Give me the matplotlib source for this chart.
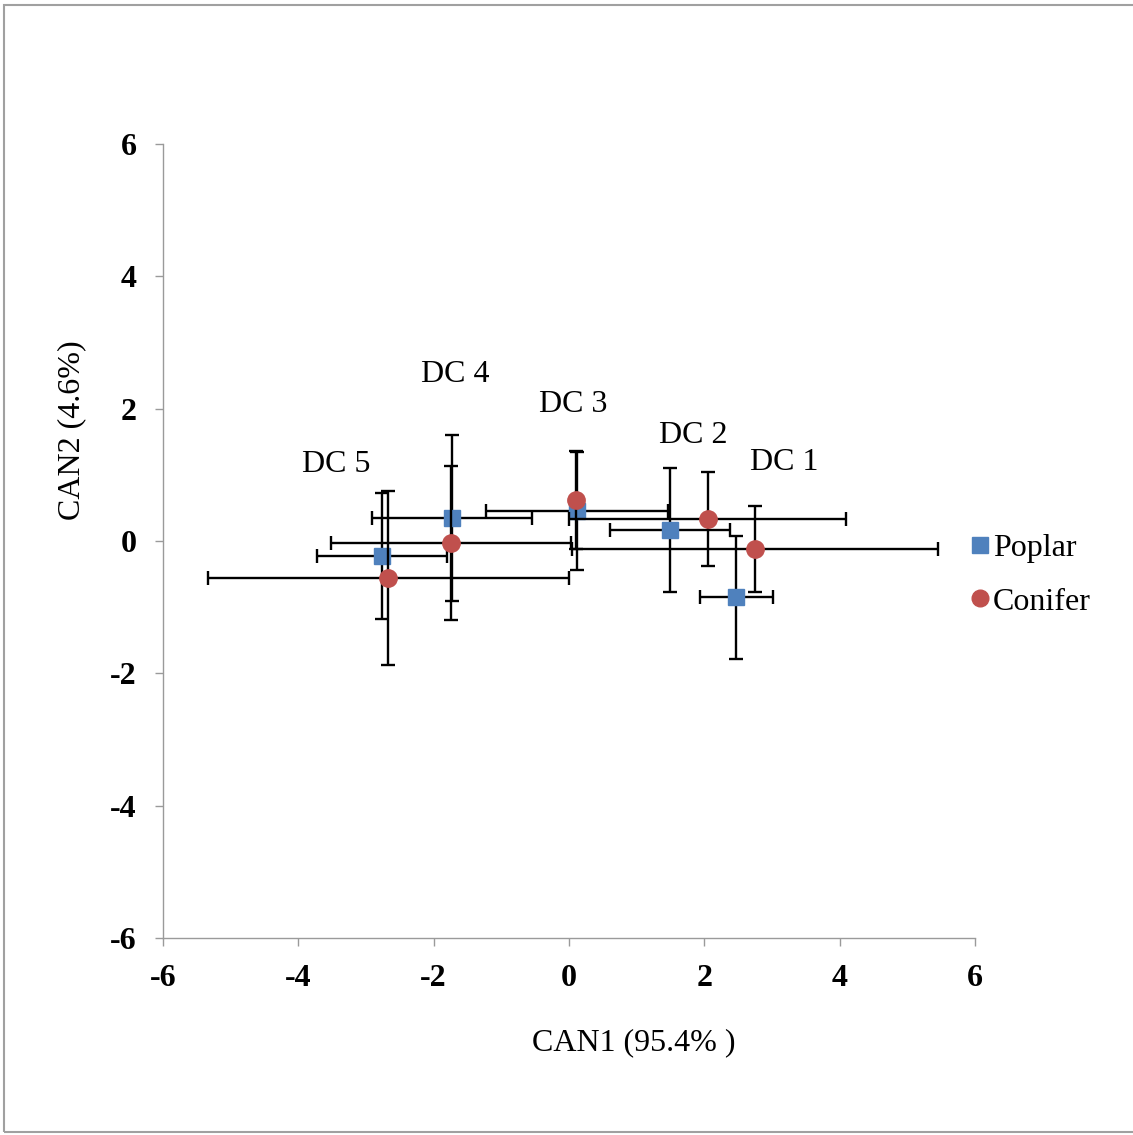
import matplotlib
matplotlib.use("Agg")
import matplotlib.pyplot as plt
from matplotlib.patches import Rectangle
from matplotlib.lines import Line2D

plt.rcParams['font.family'] = ['Liberation Serif', 'DejaVu Serif']

# Canonical means (CAN1, CAN2) with error bars for each decay class
classes = ["DC 1", "DC 2", "DC 3", "DC 4", "DC 5"]

poplar_can1 = [2.47, 1.49, 0.12, -1.73, -2.76]
poplar_can2 = [-0.85, 0.17, 0.45, 0.35, -0.23]
poplar_err1 = [0.54, 0.89, 1.34, 1.18, 0.96]
poplar_err2 = [0.93, 0.94, 0.89, 1.25, 0.95]

conifer_can1 = [2.75, 2.05, 0.10, -1.74, -2.67]
conifer_can2 = [-0.12, 0.33, 0.62, -0.03, -0.56]
conifer_err1 = [2.71, 2.05, 0.00, 1.77, 2.67]
conifer_err2 = [0.65, 0.71, 0.74, 1.17, 1.31]

# Label anchor points for each decay class
label_x = [3.18, 1.83, 0.06, -1.68, -3.44]
label_y = [1.18, 1.60, 2.07, 2.51, 1.15]

ticks = [-6, -4, -2, 0, 2, 4, 6]

FS = 23
W, H = 1133, 1135
fig = plt.figure(figsize=(W / 100, H / 100), dpi=100)
ax = fig.add_axes([163 / W, 1 - 938 / H, (975 - 163) / W, (938 - 144) / H])

blue = "#4F81BD"
red = "#C0504D"
ebkw = dict(ecolor="black", elinewidth=1.7, capsize=4.8, capthick=1.7, linestyle="none")

ax.errorbar(poplar_can1, poplar_can2, xerr=poplar_err1, yerr=poplar_err2,
            marker="s", markersize=11.5, markerfacecolor=blue, markeredgecolor=blue,
            zorder=2, **ebkw)
ax.errorbar(conifer_can1, conifer_can2, xerr=conifer_err1, yerr=conifer_err2,
            marker="o", markersize=12.5, markerfacecolor=red, markeredgecolor=red,
            zorder=3, **ebkw)

for name, lx, ly in zip(classes, label_x, label_y):
    ax.text(lx, ly, name, ha="center", va="center", fontsize=FS, color="black")

ax.set_xlim(-6, 6)
ax.set_ylim(-6, 6)
ax.set_xticks(ticks)
ax.set_yticks(ticks)
ax.set_xticklabels([str(t) for t in ticks], fontsize=FS, fontweight="bold")
ax.set_yticklabels([str(t) for t in ticks], fontsize=FS, fontweight="bold")
for s in ["top", "right"]:
    ax.spines[s].set_visible(False)
for s in ["left", "bottom"]:
    ax.spines[s].set_color("#9a9a9a")
    ax.spines[s].set_linewidth(1.0)
ax.tick_params(direction="out", length=6, width=1.0, color="#9a9a9a", pad=13)

fig.text(634 / W, 1 - 1043 / H, "CAN1 (95.4% )", ha="center", va="center", fontsize=FS)
fig.text(72 / W, 1 - 430 / H, "CAN2 (4.6%)", ha="center", va="center", fontsize=FS,
         rotation=90)

handles = [
    Line2D([], [], marker="s", linestyle="none", markersize=11,
           markerfacecolor=blue, markeredgecolor=blue),
    Line2D([], [], marker="o", linestyle="none", markersize=12,
           markerfacecolor=red, markeredgecolor=red),
]
fig.legend(handles, ["Poplar", "Conifer"], loc="upper left",
           bbox_to_anchor=(956 / W, 1 - 518 / H), frameon=False, fontsize=FS,
           handlelength=0.5, handletextpad=0.15, labelspacing=0.75, borderpad=0)

# Outer chart frame
fig.patches.append(Rectangle((4 / W, 1 - 1132 / H), 1.2, (1132 - 5) / H,
                             transform=fig.transFigure, fill=False,
                             edgecolor="#a0a0a0", linewidth=1.5))

fig.savefig("out.png", dpi=100)
